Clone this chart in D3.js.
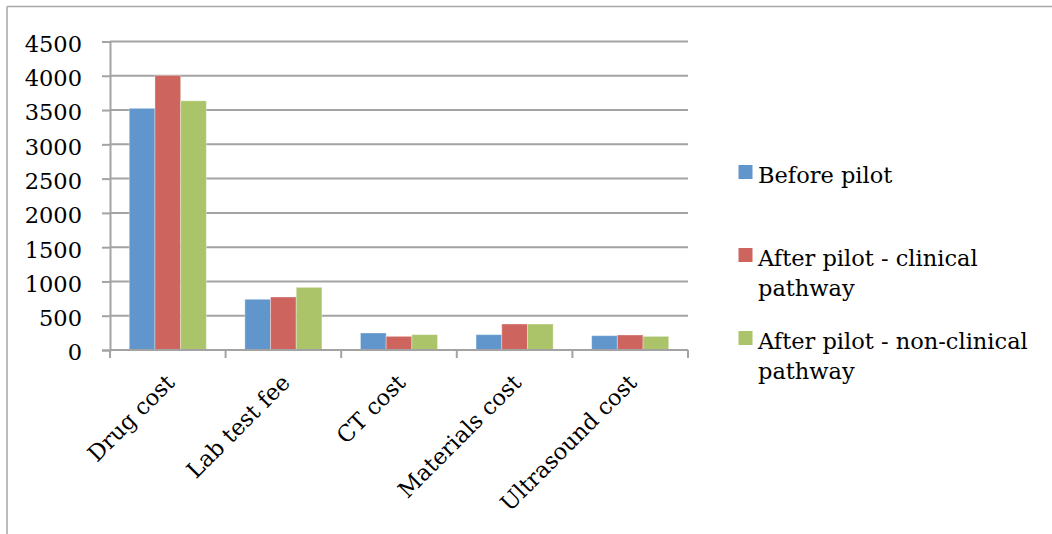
<!DOCTYPE html>
<html>
<head>
<meta charset="utf-8">
<script src="https://cdn.jsdelivr.net/npm/d3@7"></script>
<style>
  html, body { margin: 0; padding: 0; background: #fff; }
  svg { display: block; }
</style>
</head>
<body>
<svg id="chart" width="1052" height="534"></svg>
<script>
// Average cost per case by item, before and after the pilot
const categories = ["Drug cost", "Lab test fee", "CT cost", "Materials cost", "Ultrasound cost"];
const seriesNames = ["Before pilot", "After pilot - clinical pathway", "After pilot - non-clinical pathway"];
const beforePilot = [3525, 740, 248, 224, 209];
const afterClinical = [4005, 773, 199, 379, 219];
const afterNonClinical = [3635, 914, 224, 379, 199];
const yTicks = [0, 500, 1000, 1500, 2000, 2500, 3000, 3500, 4000, 4500];
const colors = ["#6096cb", "#cd645e", "#abc46a"];
const legendLines = [["Before pilot"], ["After pilot - clinical", "pathway"], ["After pilot - non-clinical", "pathway"]];

const series = [beforePilot, afterClinical, afterNonClinical];
const FONT = "'DejaVu Serif', 'Liberation Serif', serif";
const FONT_SIZE = "22.5px";

const svg = d3.select("#chart");
const plot = { left: 110, right: 688, top: 41.5, bottom: 350 };

// frame of the chart area
svg.append("line").attr("x1", 7).attr("x2", 1052).attr("y1", 6.5).attr("y2", 6.5)
  .attr("stroke", "#a6a6a6").attr("stroke-width", 1.5);
svg.append("line").attr("x1", 7).attr("x2", 7).attr("y1", 6.5).attr("y2", 534)
  .attr("stroke", "#a6a6a6").attr("stroke-width", 1.5);

const x0 = d3.scaleBand().domain(categories).range([plot.left, plot.right]).paddingInner(0).paddingOuter(0);
const x1 = d3.scaleBand().domain(d3.range(series.length))
  .range([0, x0.bandwidth()]).paddingOuter(0.75).paddingInner(0);
const y = d3.scaleLinear().domain([0, 4500]).range([plot.bottom, plot.top]);

// horizontal gridlines
svg.append("g").selectAll("line").data(yTicks.filter(d => d > 0)).join("line")
  .attr("x1", plot.left).attr("x2", plot.right)
  .attr("y1", d => y(d)).attr("y2", d => y(d))
  .attr("stroke", "#a3a3a3").attr("stroke-width", 2);

// bars
const groups = svg.append("g").selectAll("g").data(categories).join("g")
  .attr("transform", c => `translate(${x0(c)},0)`);
groups.selectAll("rect").data((c, i) => series.map((s, k) => ({ k, v: s[i] }))).join("rect")
  .attr("x", d => x1(d.k))
  .attr("width", x1.bandwidth())
  .attr("y", d => y(d.v))
  .attr("height", d => y(0) - y(d.v))
  .attr("fill", d => colors[d.k])
  .attr("stroke", "#fff").attr("stroke-opacity", 0.35).attr("stroke-width", 1);

// y axis
const yAxis = svg.append("g").attr("transform", `translate(${plot.left},0)`)
  .call(d3.axisLeft(y).tickValues(yTicks).tickSize(8).tickPadding(10).tickFormat(d3.format("d")));
yAxis.attr("font-family", null).attr("font-size", null);
yAxis.select(".domain").attr("stroke", "#a3a3a3").attr("stroke-width", 2);
yAxis.selectAll(".tick line").attr("stroke", "#a3a3a3").attr("stroke-width", 2);
yAxis.selectAll("text")
  .style("font-family", FONT).style("font-size", FONT_SIZE)
  .attr("fill", "#000").attr("dy", "0.44em").attr("x", -28);

// x axis with ticks at category boundaries
const xAxisG = svg.append("g").attr("transform", `translate(0,${plot.bottom})`);
xAxisG.append("line").attr("x1", plot.left).attr("x2", plot.right).attr("y1", 0).attr("y2", 0)
  .attr("stroke", "#a3a3a3").attr("stroke-width", 2);
const boundaries = categories.map(c => x0(c)).concat([plot.right]);
xAxisG.selectAll("line.tk").data(boundaries).join("line").attr("class", "tk")
  .attr("x1", d => d).attr("x2", d => d).attr("y1", 0).attr("y2", 8)
  .attr("stroke", "#a3a3a3").attr("stroke-width", 2);
xAxisG.selectAll("text").data(categories).join("text")
  .attr("transform", c => `translate(${x0(c) + x0.bandwidth() / 2 + 8},${34}) rotate(-45)`)
  .attr("text-anchor", "end")
  .style("font-family", FONT).style("font-size", FONT_SIZE)
  .attr("fill", "#000")
  .text(c => c);

// legend
const legendY = [165, 248, 331];
const legend = svg.append("g");
legendLines.forEach((lines, i) => {
  legend.append("rect").attr("x", 738.5).attr("y", legendY[i]).attr("width", 14).attr("height", 14)
    .attr("fill", colors[i]);
  const t = legend.append("text").attr("x", 758).attr("y", legendY[i] + 18)
    .style("font-family", FONT).style("font-size", FONT_SIZE).attr("fill", "#000");
  lines.forEach((ln, j) => {
    t.append("tspan").attr("x", 758).attr("dy", j === 0 ? 0 : 30).text(ln);
  });
});
</script>
</body>
</html>
